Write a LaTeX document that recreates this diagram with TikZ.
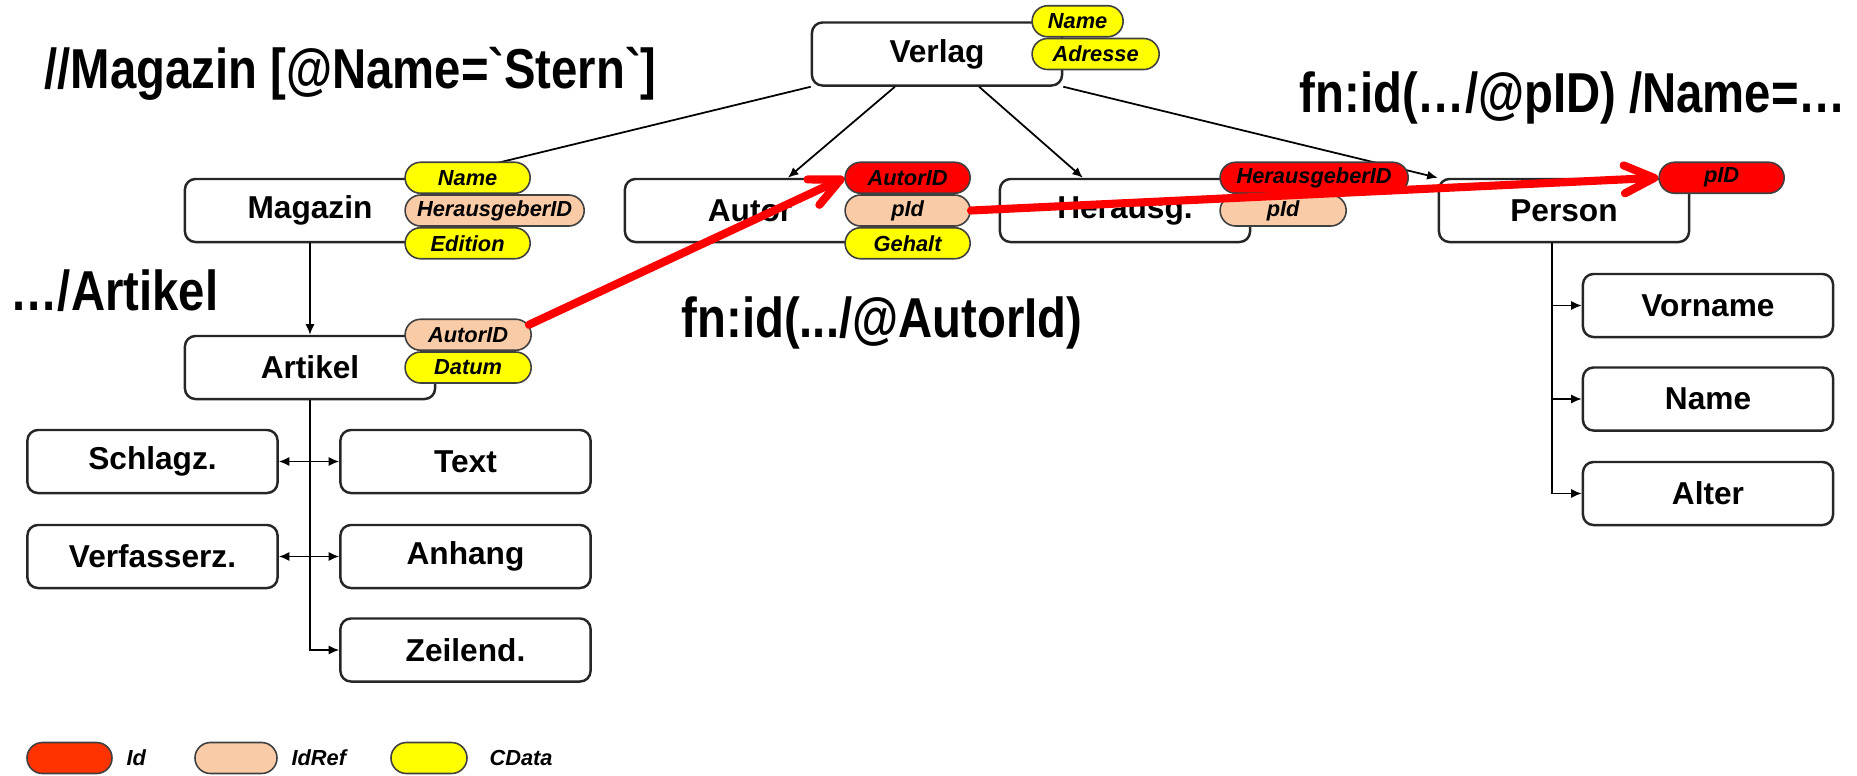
\documentclass[tikz,border=0pt]{standalone}
\usepackage{fontspec}
\setmainfont{Liberation Sans}
\newfontfamily\queryfont[FakeStretch=0.84]{Liberation Sans}
\usepackage{tikz}
\usetikzlibrary{shapes,arrows,positioning,calc,arrows.meta}

\definecolor{idred}{HTML}{FF0000}
\definecolor{idlegend}{HTML}{FF3300}
\definecolor{idref}{HTML}{F9CBA6}
\definecolor{cdata}{HTML}{FFFF00}

\begin{document}
\begin{tikzpicture}[x=0.01cm, y=-0.01cm,
    elem/.style={draw=black!85, line width=0.7pt, rounded corners=3pt, fill=white,
        minimum width=2.5cm, minimum height=0.63cm, inner sep=0pt,
        font=\fontsize{9}{10}\selectfont\bfseries},
    attr/.style={draw=black!75, line width=0.45pt, rounded rectangle, minimum height=0.31cm,
        inner sep=0pt, font=\fontsize{6.2}{7}\selectfont\bfseries\itshape},
    legtext/.style={inner sep=0pt, font=\fontsize{6.2}{7}\selectfont\bfseries\itshape},
    link/.style={line width=0.5pt, -{Latex[length=3pt,width=2.6pt]}},
    linkboth/.style={line width=0.5pt, {Latex[length=3pt,width=2.6pt]}-{Latex[length=3pt,width=2.6pt]}},
    ref/.style={idred, line width=2.3pt, line cap=round,
        -{Straight Barb[length=3mm,width=2.8mm,line cap=round,line join=round]}},
    query/.style={inner sep=0pt, anchor=base west, font=\fontsize{16}{18}\selectfont\queryfont\bfseries}]

    \useasboundingbox (0,0) rectangle (1857,775);

    % Elements
    \node [elem] (verlag)  at (937,54)     {Verlag};
    \node [elem] (magazin) at (310,210.5)  {Magazin};
    \node [elem] (autor)   at (750,210.5)  {Autor};
    \node [elem] (herausg) at (1125,210.5) {Herausg.};
    \node [elem] (person)  at (1564,210.5) {Person};
    \node [elem] (artikel) at (310,367.5)  {Artikel};
    \foreach \n/\t/\x/\y in {schlagz/Schlagz./152.5/461.5, textbox/Text/465.5/461.5,
        verfasserz/Verfasserz./152.5/556.5, anhang/Anhang/465.5/556.5,
        zeilend/Zeilend./465.5/650, vorname/Vorname/1708/305.5,
        pname/Name/1708/399, alter/Alter/1708/493.5}
        \node [elem] (\n) at (\x,\y) {\t};

    % Tree
    \draw [link] (verlag.south west) -- (magazin.north east);
    \draw [link] ($(verlag.south west)!1/3!(verlag.south east)$) -- ($(autor.north west)!0.65!(autor.north east)$);
    \draw [link] ($(verlag.south west)!2/3!(verlag.south east)$) -- ($(herausg.north west)!1/3!(herausg.north east)$);
    \draw [link] (verlag.south east) -- (person.north west);
    \draw [link] (magazin) -- (artikel);
    \draw [link] (artikel.south) |- (zeilend.west);
    \draw [linkboth] (schlagz) -- (textbox);
    \draw [linkboth] (verfasserz) -- (anhang);
    \coordinate (ptrunk) at ($(person.south)+(-12,0)$);
    \draw [link] (ptrunk) |- (alter.west);
    \draw [link] (ptrunk |- vorname) -- (vorname);
    \draw [link] (ptrunk |- pname) -- (pname);

    % Attributes
    \foreach \b/\a/\c/\w/\t/\n in {verlag/north east/cdata/0.91/Name/verName,
        verlag/east/cdata/1.27/Adresse/verAdresse,
        magazin/north east/cdata/1.25/Name/magName,
        magazin/east/idref/1.79/HerausgeberID/magHrsgID,
        magazin/south east/cdata/1.25/Edition/magEdition,
        autor/north east/idred/1.25/AutorID/autAutorID,
        autor/east/idref/1.25/pId/autPId,
        autor/south east/cdata/1.25/Gehalt/autGehalt,
        herausg/north east/idred/1.88/HerausgeberID/hrsgID,
        herausg/east/idref/1.26/pId/hrsgPId,
        person/north east/idred/1.25/pID/perPID,
        artikel/north east/idref/1.26/AutorID/artAutorID,
        artikel/east/cdata/1.26/Datum/artDatum}
        \node [attr, fill=\c, minimum width=\w cm, anchor=west] (\n) at ($(\b.\a)+(-32,0)$) {\t};

    % References
    \draw [ref] ($(artAutorID.east)+(-3,-10)$) -- (autAutorID.west);
    \draw [ref] (autPId.east) -- (perPID.west);

    % Queries
    \node [query] (qmagazin) at (44,88)   {//Magazin [@Name=`Stern`]};
    \node [query] (qartikel) at (10,310)  {…/Artikel};
    \node [query] (qautor)   at (681,337) {fn:id(.../@AutorId)};
    \node [query] (qperson)  at (1299,112) {fn:id(…/@pID) /Name=…};

    % Legend
    \node [attr, fill=idlegend, minimum width=0.85cm] (legId) at (69.5,758) {};
    \node [legtext, right=0.13cm of legId] (legIdText) {Id};
    \node [attr, fill=idref, minimum width=0.82cm] (legIdRef) at (236,758) {};
    \node [legtext, right=0.13cm of legIdRef] (legIdRefText) {IdRef};
    \node [attr, fill=cdata, minimum width=0.76cm] (legCData) at (429,758) {};
    \node [legtext, right=0.21cm of legCData] (legCDataText) {CData};
\end{tikzpicture}
\end{document}
